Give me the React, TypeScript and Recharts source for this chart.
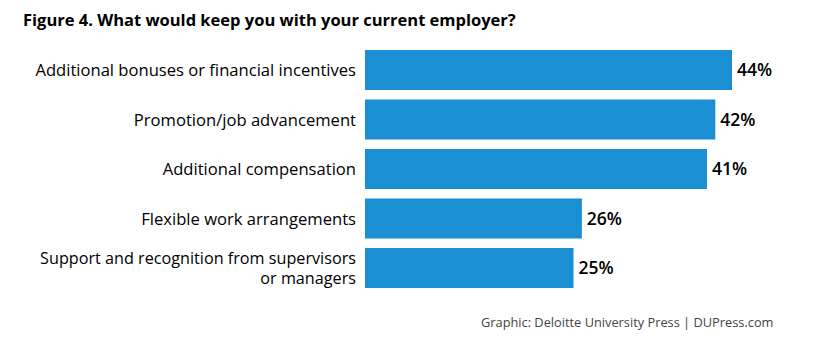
import { Bar, BarChart, LabelList, XAxis, YAxis } from 'recharts';

const categories = [
  'Additional bonuses or financial incentives',
  'Promotion/job advancement',
  'Additional compensation',
  'Flexible work arrangements',
  'Support and recognition from supervisors\nor managers',
];
const shares = [44, 42, 41, 26, 25];

const data = categories.map((name, i) => ({ name, value: shares[i] }));

const FONT = '"Open Sans", sans-serif';

const CategoryTick = (props: any) => {
  const { x, y, payload } = props;
  const lines = String(payload.value).split('\n');
  const lineHeight = 20;
  const startY = y - ((lines.length - 1) * lineHeight) / 2;
  return (
    <g>
      {lines.map((line, i) => (
        <text
          key={i}
          x={x}
          y={startY + i * lineHeight}
          textAnchor="end"
          dominantBaseline="central"
          fontFamily={FONT}
          fontSize={lines.length > 1 ? 16.2 : 16.6}
          fontWeight={500}
          fill="#000"
        >
          {line}
        </text>
      ))}
    </g>
  );
};

const App = () => {
  return (
    <div
      style={{
        position: 'absolute',
        left: 0,
        top: 0,
        width: 818,
        height: 356,
        background: '#fff',
        fontFamily: FONT,
      }}
    >
      <div
        style={{
          position: 'absolute',
          left: 23,
          top: 8,
          fontSize: 16.5,
          fontWeight: 700,
          color: '#000',
        }}
      >
        Figure 4. What would keep you with your current employer?
      </div>
      <BarChart
        width={818}
        height={356}
        data={data}
        layout="vertical"
        margin={{ top: 45, right: 86, bottom: 63.5, left: 0 }}
        barCategoryGap={4.75}
      >
        <XAxis type="number" domain={[0, 44]} hide />
        <YAxis
          type="category"
          dataKey="name"
          width={365}
          axisLine={false}
          tickLine={false}
          tickSize={0}
          tickMargin={9}
          interval={0}
          tick={<CategoryTick />}
        />
        <Bar dataKey="value" fill="#1a8fd3" barSize={40} isAnimationActive={false}>
          <LabelList
            dataKey="value"
            position="right"
            offset={5}
            formatter={(v: any) => `${v}%`}
            style={{ fontFamily: FONT, fontSize: 17.5, fontWeight: 600, fill: '#000' }}
          />
        </Bar>
      </BarChart>
      <div
        style={{
          position: 'absolute',
          left: 481,
          top: 313,
          fontSize: 12.8,
          color: '#444',
        }}
      >
        Graphic: Deloitte University Press | DUPress.com
      </div>
    </div>
  );
};

export default App;
